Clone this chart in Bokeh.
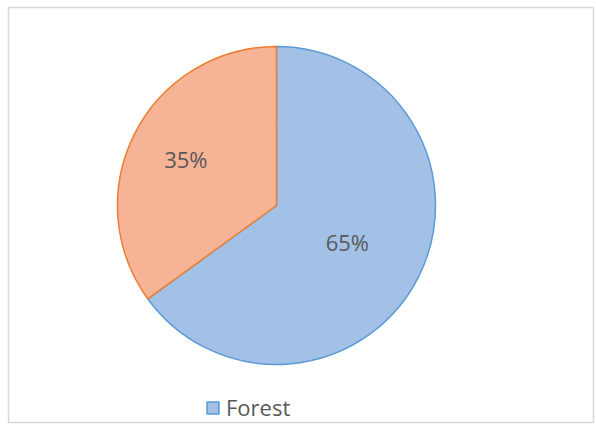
from math import pi, cos, sin
from bokeh.plotting import figure
from bokeh.models import Range1d, Legend, LegendItem, ColumnDataSource
from bokeh.core.properties import value
from bokeh.embed import file_html
from bokeh.resources import INLINE

# data
categories = ["Forest", ""]
shares = [65, 35]
label_texts = ["65%", "35%"]

fills = ["#a3c1e7", "#f6b395"]
edges = ["#5b9bd5", "#ed7d31"]
label_frac = [0.50, 0.64]

W, H = 596, 424
p = figure(width=W, height=H, output_backend="svg", toolbar_location=None,
           x_range=Range1d(8, 593), y_range=Range1d(2, 417),
           min_border_left=8, min_border_right=3, min_border_top=7, min_border_bottom=2)
p.axis.visible = False
p.grid.visible = False
p.outline_line_color = "#d9d9d9"
p.outline_line_width = 1.5
p.background_fill_color = "white"
p.border_fill_color = "white"

cx, cy, r = 276, 424 - 205, 159
total = sum(shares)
starts, ends, lx, ly = [], [], [], []
a = pi / 2
for s, f in zip(shares, label_frac):
    sweep = 2 * pi * s / total
    starts.append(a - sweep)
    ends.append(a)
    mid = a - sweep / 2
    lx.append(cx + f * r * cos(mid))
    ly.append(cy + f * r * sin(mid))
    a -= sweep

renderers = []
for i in range(len(shares)):
    rr = p.wedge(x=cx, y=cy, radius=r, start_angle=starts[i], end_angle=ends[i],
                 fill_color=fills[i], line_color=edges[i], line_width=1.5)
    renderers.append(rr)

src = ColumnDataSource(dict(x=lx, y=ly, t=label_texts))
p.text(x="x", y="y", text="t", source=src, text_align="center", text_baseline="middle",
       text_font=value("Open Sans"), text_font_size="22px", text_color="#595959")

legend = Legend(items=[LegendItem(label=categories[0], renderers=[renderers[0]])],
                location=(197, 0), orientation="horizontal",
                glyph_width=15, glyph_height=15, label_standoff=6,
                label_text_font="Open Sans", label_text_font_size="22px",
                label_text_color="#595959", border_line_color=None,
                background_fill_alpha=0, padding=2, margin=0, spacing=0)
p.add_layout(legend)

open("out.html", "w").write(file_html(p, INLINE))
